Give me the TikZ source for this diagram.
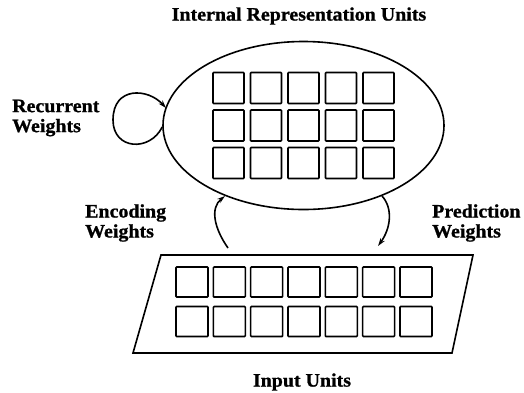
\documentclass[tikz,border=0pt]{standalone}
\usepackage{fontspec}
\setmainfont[FakeStretch=1.05,BoldFeatures={FakeBold=1}]{Liberation Serif}
\usetikzlibrary{arrows.meta,shapes.geometric}
\begin{document}
\begin{tikzpicture}[x=1pt,y=-1pt,
  unit/.style={draw,line width=1.6pt,minimum width=31pt,minimum height=31pt,inner sep=0pt,rounded corners=0.8pt},
  inunit/.style={draw,line width=1.6pt,minimum width=32pt,minimum height=30pt,inner sep=0pt,rounded corners=0.8pt},
  lbl/.style={font=\fontsize{19}{20}\selectfont\bfseries,inner sep=0pt},
  conn/.style={line width=1.6pt,-{Stealth[length=8pt,width=5pt]}}]
\useasboundingbox (0,0) rectangle (524,392);
% internal representation ellipse
\node[ellipse,draw,line width=1.6pt,minimum width=281pt,minimum height=168pt,inner sep=0pt] (hid) at (303.5,125.5) {};
\foreach \r/\y in {1/88,2/125.5,3/163}{
  \foreach \c in {1,...,5}{
    \node[unit] (h\r\c) at ({228.5+37.5*(\c-1)},\y) {};
  }
}
% input parallelogram
\draw[line width=1.6pt,line join=miter] (161,255) coordinate (pTL) -- (473,255) coordinate (pTR) -- (452,353) coordinate (pBR) -- (133,353) coordinate (pBL) -- cycle;
\foreach \r/\y in {1/282,2/321.5}{
  \foreach \c in {1,...,7}{
    \node[inunit] (i\r\c) at ({192+37.33*(\c-1)},\y) {};
  }
}
% labels
\node[lbl] (tHid) at (299,16) {Internal Representation Units};
\node[lbl] (tIn) at (302,382) {Input Units};
\node[lbl,anchor=west,align=left] (tRec) at (12,118) {Recurrent\\Weights};
\node[lbl,anchor=west,align=left] (tEnc) at (85,223) {Encoding\\Weights};
\node[lbl,anchor=west,align=left] (tPre) at (432,223) {Prediction\\Weights};
% connectors
\coordinate (recS) at (hid.west |- 0,127);
\coordinate (recE) at (166,108);
\draw[conn] (recS) .. controls (150,152) and (113,150) .. (113,120) .. controls (113,86) and (148,88) .. (recE);
\coordinate (encS) at (228,248);
\coordinate (encE) at (225,196);
\draw[conn] (encS) .. controls (214,228) and (210,208) .. (encE);
\coordinate (preS) at (382,196);
\coordinate (preE) at (378,246);
\draw[conn] (preS) .. controls (393,208) and (391,228) .. (preE);
\end{tikzpicture}
\end{document}
